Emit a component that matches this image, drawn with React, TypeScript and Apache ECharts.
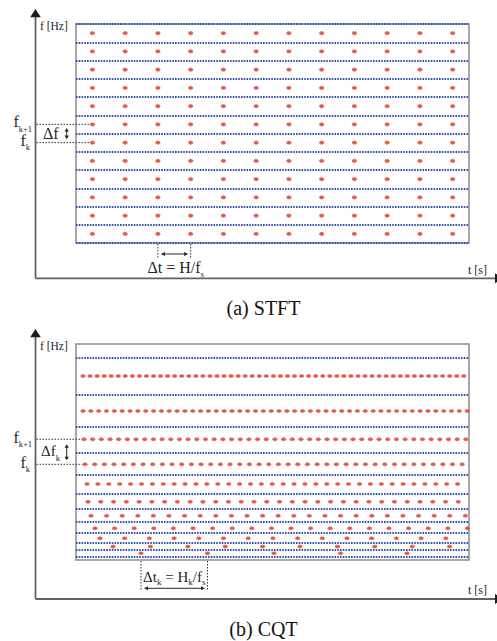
import React, { useEffect, useRef } from "react";
import * as echarts from "echarts";

const W = 497;
const H = 641;
const SERIF = '"Liberation Serif", "Times New Roman", serif';
const BLUE = "#2f53ad";
const RED = "#f02a1a";
const INK = "#262626";
const AXIS = "#626262";

// ---------------- data ----------------
// STFT: frame times (in hops, 12 hops across the plot) and frequency bins
const stftFrames = [0.5, 1.5, 2.5, 3.5, 4.5, 5.5, 6.5, 7.5, 8.5, 9.5, 10.5, 11.5];
const stftBins = [0.5, 1.5, 2.5, 3.5, 4.5, 5.5, 6.5, 7.5, 8.5, 9.5, 10.5, 11.5];
const stftEdges = [0, 1, 2, 3, 4, 5, 6, 7, 8, 9, 10, 11, 12];

// CQT (top -> bottom): bin edges and centres (% of plotted frequency range)
const cqtEdges = [93.7, 76.4, 61.7, 49.7, 39.4, 30.9, 23.5, 17.5, 12.6, 8.0, 4.6, 1.3];
const cqtCenters = [85.2, 69.0, 55.9, 44.3, 35.2, 27.0, 20.5, 14.7, 10.1, 6.2, 3.1];
// first frame time, hop size H_k (same time units as STFT), frames per bin
const cqtFirst = [0.214, 0.214, 0.244, 0.275, 0.336, 0.366, 0.458, 0.58, 0.733, 1.13, 1.985];
const cqtHop = [0.2153, 0.2394, 0.265, 0.2953, 0.3328, 0.3899, 0.4763, 0.5985, 0.7542, 1.142, 2.0305];
const cqtCount = [55, 50, 45, 40, 35, 30, 25, 20, 15, 10, 5];

const yAxisName = "f [Hz]";
const xAxisName = "t [s]";
const captions = ["(a) STFT", "(b) CQT"];

// ---------------- points ----------------
const stftPoints: number[][] = [];
stftBins.forEach((b) => stftFrames.forEach((t) => stftPoints.push([t, b])));
const cqtPoints: number[][] = [];
cqtCenters.forEach((f, i) => {
  for (let n = 0; n < cqtCount[i]; n++) cqtPoints.push([cqtFirst[i] + n * cqtHop[i], f]);
});

const dotStyle = {
  symbol: "circle",
  symbolSize: [5, 3.5],
  itemStyle: { color: RED, borderColor: "rgba(170,170,170,0.35)", borderWidth: 0.8 },
  silent: true,
  z: 5,
};
const blueLine = { color: BLUE, width: 2, type: [1.6, 1.15] as any, opacity: 1 };

const baseOption: any = {
  animation: false,
  backgroundColor: "#ffffff",
  grid: [
    { left: 76, top: 24, width: 393, height: 219, show: true, borderColor: "#8c8c8c", borderWidth: 1.5, containLabel: false },
    { left: 76, top: 344, width: 393, height: 216, show: true, borderColor: "#8c8c8c", borderWidth: 1.5, containLabel: false },
  ],
  xAxis: [
    { type: "value", gridIndex: 0, min: 0, max: 12, show: false },
    { type: "value", gridIndex: 1, min: 0, max: 12, show: false },
  ],
  yAxis: [
    { type: "value", gridIndex: 0, min: 0, max: 12, show: false },
    { type: "value", gridIndex: 1, min: 0, max: 100, show: false },
  ],
  series: [
    {
      type: "lines",
      coordinateSystem: "cartesian2d",
      xAxisIndex: 0,
      yAxisIndex: 0,
      data: stftEdges.map((e) => ({ coords: [[0, e], [12, e]] })),
      lineStyle: blueLine,
      silent: true,
      z: 3,
    },
    { type: "scatter", xAxisIndex: 0, yAxisIndex: 0, data: stftPoints, ...dotStyle },
    {
      type: "lines",
      coordinateSystem: "cartesian2d",
      xAxisIndex: 1,
      yAxisIndex: 1,
      data: cqtEdges.map((e) => ({ coords: [[0, e], [12, e]] })),
      lineStyle: blueLine,
      silent: true,
      z: 3,
    },
    { type: "scatter", xAxisIndex: 1, yAxisIndex: 1, data: cqtPoints, ...dotStyle },
  ],
};

// ---------------- graphic helpers ----------------
let ctx: CanvasRenderingContext2D | null = null;
function tw(s: string, size: number) {
  if (!ctx) ctx = document.createElement("canvas").getContext("2d");
  if (!ctx) return s.length * size * 0.5;
  ctx.font = `${size}px ${SERIF}`;
  return ctx.measureText(s).width;
}
type Piece = { t: string; size: number; dy?: number };
function run(pieces: Piece[], x: number, base: number, align: "left" | "center" | "right", fill = INK) {
  const widths = pieces.map((p) => tw(p.t, p.size));
  const total = widths.reduce((a, b) => a + b, 0);
  let cx = align === "left" ? x : align === "center" ? x - total / 2 : x - total;
  const out: any[] = [];
  pieces.forEach((p, i) => {
    const lead = p.t.length - p.t.replace(/^\s+/, "").length;
    const leadW = lead ? tw(p.t.slice(0, lead), p.size) : 0;
    const b = base + (p.dy || 0);
    out.push({
      type: "text",
      x: cx + leadW,
      y: b - 0.3375 * p.size,
      silent: true,
      z: 10,
      style: {
        text: p.t.trim(),
        font: `${p.size}px ${SERIF}`,
        fill,
        textAlign: "left",
        textVerticalAlign: "middle",
      },
    });
    cx += widths[i];
  });
  return out;
}
function seg(x1: number, y1: number, x2: number, y2: number, stroke: string, lineWidth: number, dash?: number[]) {
  return {
    type: "line",
    silent: true,
    z: 10,
    shape: { x1, y1, x2, y2 },
    style: { stroke, lineWidth, lineDash: dash || null },
  };
}
function tri(points: number[][], fill: string) {
  return { type: "polygon", silent: true, z: 10, shape: { points }, style: { fill } };
}
function hArrow(x1: number, x2: number, y: number) {
  return [
    seg(x1 + 2, y, x2 - 2, y, INK, 1),
    tri([[x1, y], [x1 + 4, y - 2], [x1 + 4, y + 2]], INK),
    tri([[x2, y], [x2 - 4, y - 2], [x2 - 4, y + 2]], INK),
  ];
}
function vArrow(x: number, y1: number, y2: number) {
  return [
    seg(x, y1 + 2, x, y2 - 2, INK, 1),
    tri([[x, y1], [x - 2.2, y1 + 3.6], [x + 2.2, y1 + 3.6]], INK),
    tri([[x, y2], [x - 2.2, y2 - 3.6], [x + 2.2, y2 - 3.6]], INK),
  ];
}

function buildGraphic(chart: echarts.ECharts) {
  const p = (g: number, x: number, y: number) => chart.convertToPixel({ gridIndex: g } as any, [x, y]) as number[];
  const els: any[] = [];
  const panels = [
    { tip: 9, base: 278.3, off: 0 },
    { tip: 329, base: 599, off: 320 },
  ];
  // main axes and axis names, captions
  panels.forEach((pn, i) => {
    els.push(seg(35.5, pn.tip + 6, 35.5, pn.base, AXIS, 1.8));
    els.push(seg(35.5, pn.base, 495, pn.base, AXIS, 1.8));
    els.push(tri([[35.5, pn.tip], [30.2, pn.tip + 8.3], [40.8, pn.tip + 8.3]], "#1c1c1c"));
    els.push(tri([[503.5, pn.base], [495, pn.base - 5], [495, pn.base + 5]], "#1c1c1c"));
    els.push(...run([{ t: yAxisName, size: 11.5 }], 40, 30 + pn.off, "left"));
    els.push(...run([{ t: xAxisName, size: 12 }], 468, 274 + pn.off, "left"));
    els.push(...run([{ t: captions[i], size: 20 }], 263.5, i === 0 ? 315 : 636, "center", "#111"));
  });

  // ---- STFT annotations ----
  {
    const yk1 = p(0, 0, stftBins[6])[1];
    const yk = p(0, 0, stftBins[5])[1];
    const xd = p(0, stftFrames[0], 0)[0];
    els.push(seg(36.5, yk1, xd - 2.5, yk1, "#333", 1, [1.5, 1.5]));
    els.push(seg(36.5, yk, xd - 2.5, yk, "#333", 1, [1.5, 1.5]));
    els.push(...run([{ t: "f", size: 16 }, { t: "k+1", size: 8.5, dy: 4 }], 32, yk1 + 3, "right"));
    els.push(...run([{ t: "f", size: 16 }, { t: "k", size: 8.5, dy: 4 }], 30, yk + 3.5, "right"));
    const mid = (yk + yk1) / 2;
    els.push(...run([{ t: "Δf", size: 16 }], 43, mid + 5.5, "left"));
    els.push(...vArrow(66.7, yk1 + 3.5, yk - 3.5));

    const bottom = p(0, 0, 0)[1];
    const xa = p(0, stftFrames[2], 0)[0];
    const xb = p(0, stftFrames[3], 0)[0];
    els.push(seg(xa, bottom + 1, xa, 258, "#333", 1, [1.5, 1.5]));
    els.push(seg(xb, bottom + 1, xb, 258, "#333", 1, [1.5, 1.5]));
    els.push(...hArrow(xa + 3, xb - 2.5, 254));
    els.push(
      ...run([{ t: "Δt = H/f", size: 16 }, { t: "s", size: 9, dy: 3.7 }], (xa + xb) / 2 + 1.5, 273, "center")
    );
  }

  // ---- CQT annotations ----
  {
    const yk1 = p(1, 0, cqtCenters[2])[1];
    const yk = p(1, 0, cqtCenters[3])[1];
    const xd1 = p(1, cqtFirst[2], 0)[0];
    const xd = p(1, cqtFirst[3], 0)[0];
    els.push(seg(36.5, yk1, xd1 - 3, yk1, "#333", 1, [1.5, 1.5]));
    els.push(seg(36.5, yk, xd - 3, yk, "#333", 1, [1.5, 1.5]));
    els.push(...run([{ t: "f", size: 16 }, { t: "k+1", size: 8.5, dy: 4 }], 32, yk1 + 3.6, "right"));
    els.push(...run([{ t: "f", size: 16 }, { t: "k", size: 8.5, dy: 4 }], 30, yk + 3.6, "right"));
    const mid = (yk + yk1) / 2;
    els.push(...run([{ t: "Δf", size: 15 }, { t: "k", size: 8.5, dy: 4 }], 41, mid + 4.6, "left"));
    els.push(...vArrow(66.7, yk1 + 5, yk - 4));

    const bottom = p(1, 0, 0)[1];
    const xa = p(1, cqtFirst[10], 0)[0];
    const xb = p(1, cqtFirst[10] + cqtHop[10], 0)[0];
    els.push(seg(xa, bottom + 1, xa, 590, "#333", 1, [1.5, 1.5]));
    els.push(seg(xb, bottom + 1, xb, 590, "#333", 1, [1.5, 1.5]));
    els.push(...hArrow(xa + 3, xb - 2.5, 588.3));
    els.push(
      ...run(
        [
          { t: "Δt", size: 15 },
          { t: "k", size: 9, dy: 3.5 },
          { t: " = H", size: 15 },
          { t: "k", size: 9, dy: 3.5 },
          { t: "/f", size: 15 },
          { t: "s", size: 9, dy: 3.5 },
        ],
        (xa + xb) / 2,
        582,
        "center"
      )
    );
  }
  return els;
}

export default function App() {
  const ref = useRef<HTMLDivElement>(null);
  useEffect(() => {
    if (!ref.current) return;
    const chart = echarts.init(ref.current, undefined, { renderer: "svg", width: W, height: H });
    chart.setOption(baseOption);
    chart.setOption({ graphic: { elements: buildGraphic(chart) } });
    return () => chart.dispose();
  }, []);
  return (
    <div
      ref={ref}
      style={{ position: "absolute", left: 0, top: 0, width: W, height: H, background: "#fff" }}
    />
  );
}
